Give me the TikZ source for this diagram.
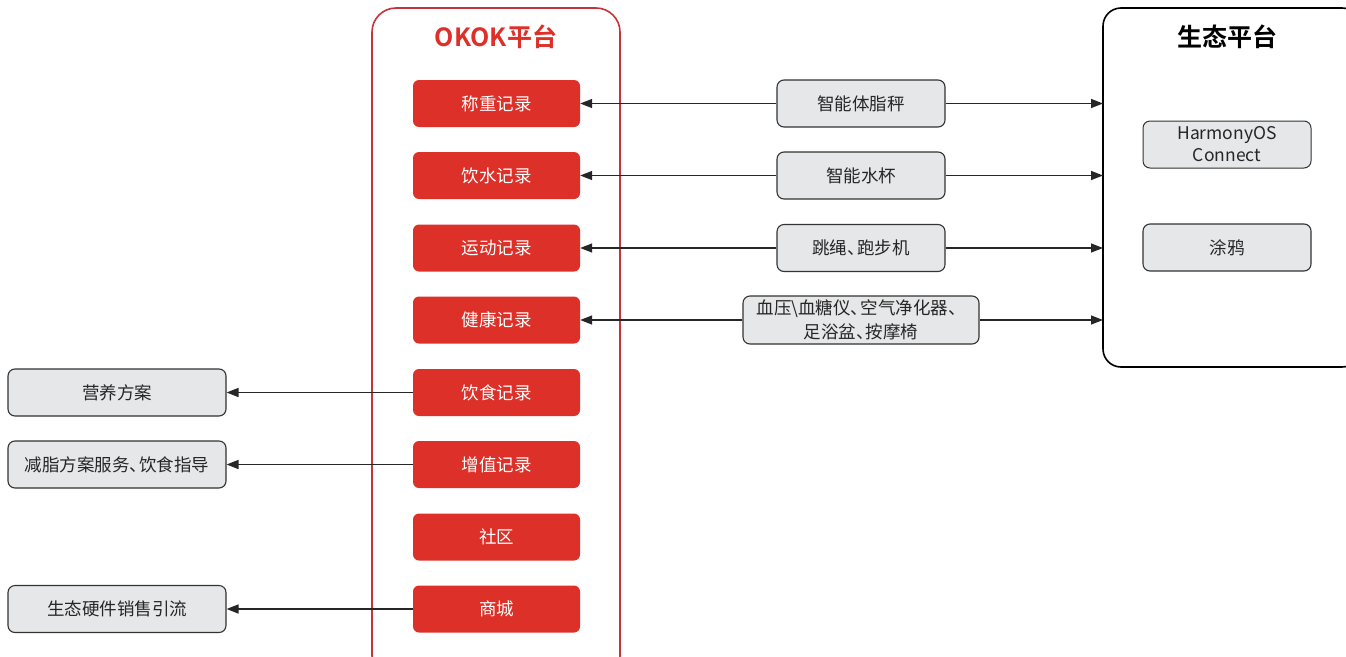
\documentclass[tikz,border=0pt]{standalone}
\usepackage{fontspec}
\setmainfont{Noto Sans CJK SC}
\newfontfamily\cjkbold{Noto Sans CJK SC Bold}
\usetikzlibrary{arrows.meta}
\definecolor{okred}{HTML}{DC3028}
\definecolor{okframe}{HTML}{C8323A}
\definecolor{boxgray}{HTML}{E6E7E8}
\definecolor{linegray}{HTML}{333333}
\newcommand\dn{、\kern-0.45em}
\tikzset{
  redbox/.style={fill=okred, rounded corners=6pt, minimum width=167pt, minimum height=47pt, text=white, font=\fontsize{17.5}{21}\selectfont, inner sep=0pt},
  graybox/.style={fill=boxgray, draw=linegray, line width=1.1pt, rounded corners=7pt, minimum width=168pt, minimum height=47pt, text=black!85, font=\fontsize{17.5}{21}\selectfont, inner sep=0pt, align=center},
  conn/.style={draw=black!85, line width=1.5pt, -{Triangle[length=12pt,width=9pt]}},
}
\begin{document}
\begin{tikzpicture}[x=1pt,y=-1pt]
\clip (0,0) rectangle (1346,656);
\fill[white] (0,0) rectangle (1346,656);
% frames
\draw[okframe, line width=1.6pt, rounded corners=24pt] (372,8) rectangle (620,680);
\node[text=okred, font=\cjkbold\fontsize{25}{28}\selectfont] (okt) at (496,37) {OKOK平台};
\draw[black, line width=1.6pt, rounded corners=18pt] (1103,8) rectangle (1360,367);
\node[text=black, font=\cjkbold\fontsize{25}{28}\selectfont] (eco) at (1227,37) {生态平台};
% ecology boxes
\node[graybox, line width=1pt, font=\fontsize{17.5}{22}\selectfont] (hm) at (1227,144.5) {HarmonyOS\\Connect};
\node[graybox] (ty) at (1227,247.5) {涂鸦};
% red boxes
\node[redbox] (r1) at (496.5,103.5) {称重记录};
\node[redbox] (r2) at (496.5,175.5) {饮水记录};
\node[redbox] (r3) at (496.5,248) {运动记录};
\node[redbox] (r4) at (496.5,320) {健康记录};
\node[redbox] (r5) at (496.5,392.5) {饮食记录};
\node[redbox] (r6) at (496.5,464.5) {增值记录};
\node[redbox] (r7) at (496.5,537) {社区};
\node[redbox] (r8) at (496.5,609) {商城};
% middle boxes
\node[graybox] (m1) at (861,103.5) {智能体脂秤};
\node[graybox] (m2) at (861,175.5) {智能水杯};
\node[graybox] (m3) at (861,248) {跳绳\dn 跑步机};
\node[graybox, minimum width=236pt, minimum height=48pt, font=\fontsize{17.5}{24}\selectfont] (m4) at (861,320) {血压\textbackslash 血糖仪\dn 空气净化器、\\足浴盆\dn 按摩椅};
% left boxes
\node[graybox, minimum width=218pt] (l1) at (117,392.5) {营养方案};
\node[graybox, minimum width=218pt] (l2) at (117,464.5) {减脂方案服务\dn 饮食指导};
\node[graybox, minimum width=218pt] (l3) at (117,609) {生态硬件销售引流};
% ecology anchors
\coordinate (e1) at (1103,103.5);
\coordinate (e2) at (1103,175.5);
\coordinate (e3) at (1103,248);
\coordinate (e4) at (1103,320);
% connectors
\draw[conn] (m1.west) -- (r1.east);
\draw[conn] (m2.west) -- (r2.east);
\draw[conn] (m3.west) -- (r3.east);
\draw[conn] (m4.west) -- (r4.east);
\draw[conn] (m1.east) -- (e1);
\draw[conn] (m2.east) -- (e2);
\draw[conn] (m3.east) -- (e3);
\draw[conn] (m4.east) -- (e4);
\draw[conn] (r5.west) -- (l1.east);
\draw[conn] (r6.west) -- (l2.east);
\draw[conn] (r8.west) -- (l3.east);
\end{tikzpicture}
\end{document}
